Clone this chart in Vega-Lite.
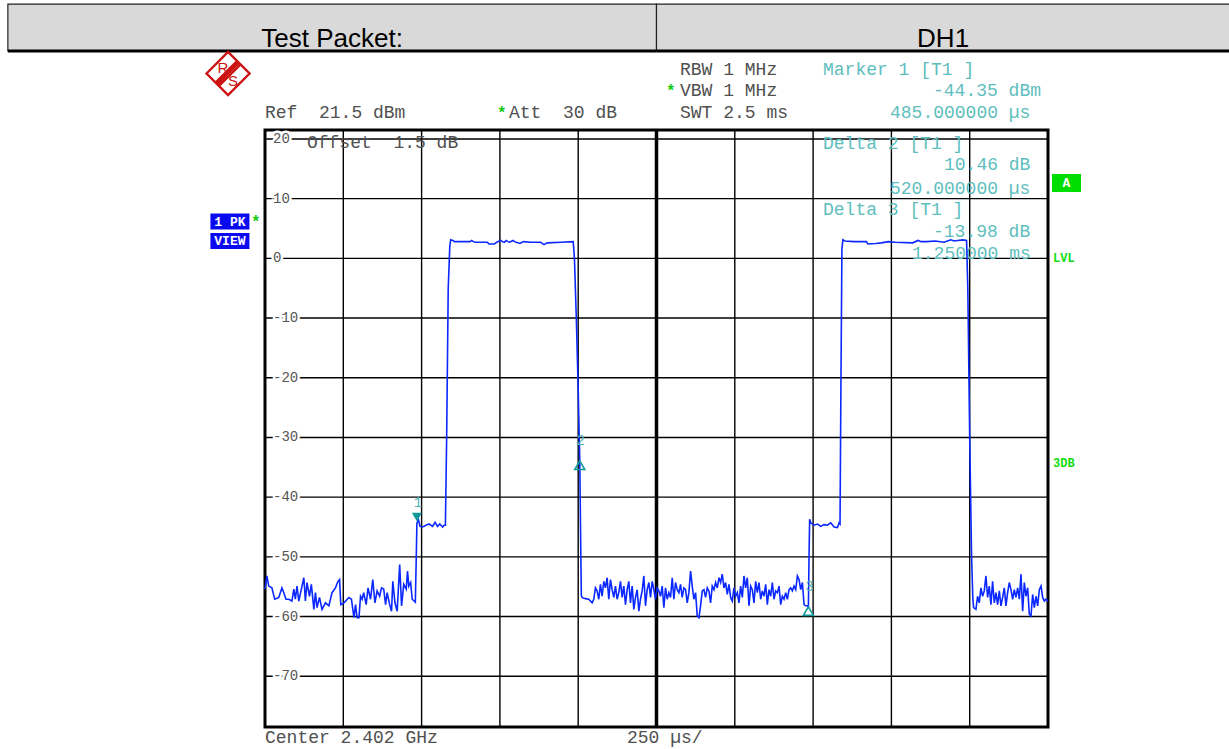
{
  "$schema": "https://vega.github.io/schema/vega-lite/v6.json",
  "width": 783,
  "height": 597,
  "autosize": {"type": "none"},
  "padding": {"left": 265, "top": 130, "right": 181, "bottom": 22},
  "background": "white",
  "config": {"view": {"stroke": "#000", "strokeWidth": 3}, "axis": {"disable": true}},
  "datasets": {
    "header": [
      {"label": "Test Packet:", "t": -821, "t2": 1250, "mid": 214.5, "top": 42.6, "bottom": 34.73, "base": 35.4},
      {"label": "DH1", "t": 1250, "t2": 3090, "mid": 2165, "top": 42.6, "bottom": 34.73, "base": 35.4}
    ],
    "vgrid": [{"t":0},{"t":250},{"t":500},{"t":750},{"t":1000},{"t":1250},{"t":1500},{"t":1750},{"t":2000},{"t":2250},{"t":2500}],
    "hgrid": [{"dBm":20},{"dBm":10},{"dBm":0},{"dBm":-10},{"dBm":-20},{"dBm":-30},{"dBm":-40},{"dBm":-50},{"dBm":-60},{"dBm":-70}],
    "trace": [
      {"t":0,"dBm":-55.4},{"t":6,"dBm":-53.2},{"t":12,"dBm":-54.9},{"t":22,"dBm":-55.2},{"t":31,"dBm":-57.1},{"t":44,"dBm":-56.8},{"t":54,"dBm":-55.2},{"t":60,"dBm":-56.0},{"t":67,"dBm":-57.1},{"t":76,"dBm":-57.1},{"t":86,"dBm":-57.4},{"t":92,"dBm":-55.4},{"t":97,"dBm":-57.1},{"t":102,"dBm":-54.9},{"t":108,"dBm":-57.4},{"t":116,"dBm":-55.4},{"t":124,"dBm":-53.5},{"t":129,"dBm":-57.4},{"t":134,"dBm":-54.3},{"t":142,"dBm":-56.6},{"t":148,"dBm":-54.6},{"t":156,"dBm":-58.8},{"t":161,"dBm":-56.0},{"t":166,"dBm":-58.5},{"t":174,"dBm":-56.8},{"t":182,"dBm":-58.8},{"t":193,"dBm":-57.7},{"t":204,"dBm":-58.2},{"t":214,"dBm":-56.0},{"t":225,"dBm":-55.2},{"t":233,"dBm":-54.1},{"t":238,"dBm":-53.8},{"t":242,"dBm":-58.0},{"t":252,"dBm":-57.7},{"t":268,"dBm":-56.8},{"t":276,"dBm":-57.1},{"t":284,"dBm":-60.2},{"t":289,"dBm":-58.0},{"t":294,"dBm":-60.2},{"t":300,"dBm":-60.2},{"t":305,"dBm":-56.6},{"t":310,"dBm":-57.1},{"t":315,"dBm":-56.0},{"t":323,"dBm":-58.0},{"t":329,"dBm":-55.2},{"t":337,"dBm":-57.1},{"t":344,"dBm":-53.8},{"t":351,"dBm":-57.7},{"t":358,"dBm":-55.7},{"t":366,"dBm":-56.6},{"t":372,"dBm":-55.2},{"t":379,"dBm":-55.4},{"t":385,"dBm":-58.0},{"t":390,"dBm":-56.0},{"t":398,"dBm":-58.0},{"t":404,"dBm":-59.1},{"t":408,"dBm":-54.1},{"t":415,"dBm":-57.7},{"t":422,"dBm":-59.1},{"t":430,"dBm":-51.3},{"t":436,"dBm":-58.2},{"t":443,"dBm":-54.6},{"t":451,"dBm":-55.4},{"t":455,"dBm":-52.4},{"t":459,"dBm":-54.9},{"t":465,"dBm":-54.3},{"t":470,"dBm":-57.1},{"t":476,"dBm":-57.4},{"t":480,"dBm":-57.6},
      {"t":483,"dBm":-50.0},{"t":485,"dBm":-44.35},{"t":490,"dBm":-43.8},{"t":495,"dBm":-44.9},{"t":503,"dBm":-45.0},{"t":514,"dBm":-44.7},{"t":524,"dBm":-44.5},{"t":535,"dBm":-44.9},{"t":543,"dBm":-44.2},{"t":551,"dBm":-44.9},{"t":558,"dBm":-44.5},{"t":567,"dBm":-45.0},{"t":572,"dBm":-44.7},{"t":576,"dBm":-44.7},
      {"t":580,"dBm":-30.0},{"t":585,"dBm":-5.0},{"t":590,"dBm":2.0},{"t":593,"dBm":3.1},{"t":600,"dBm":3.0},{"t":605,"dBm":2.8},{"t":630,"dBm":2.8},{"t":655,"dBm":2.8},{"t":660,"dBm":3.0},{"t":665,"dBm":2.8},{"t":671,"dBm":2.7},{"t":710,"dBm":2.7},{"t":715,"dBm":2.4},{"t":732,"dBm":2.4},{"t":743,"dBm":2.8},{"t":753,"dBm":3.0},{"t":758,"dBm":2.8},{"t":764,"dBm":2.7},{"t":770,"dBm":3.0},{"t":776,"dBm":2.8},{"t":781,"dBm":2.7},{"t":792,"dBm":3.0},{"t":797,"dBm":2.8},{"t":802,"dBm":2.7},{"t":814,"dBm":2.5},{"t":825,"dBm":2.8},{"t":847,"dBm":2.7},{"t":880,"dBm":2.7},{"t":891,"dBm":2.3},{"t":901,"dBm":2.6},{"t":946,"dBm":2.7},{"t":984,"dBm":2.8},
      {"t":988,"dBm":0.0},{"t":994,"dBm":-10.0},{"t":1000,"dBm":-22.0},{"t":1005,"dBm":-33.89},{"t":1008,"dBm":-48.0},{"t":1010,"dBm":-56.5},
      {"t":1012.4,"dBm":-56.8},{"t":1023,"dBm":-57.0},{"t":1033.7,"dBm":-57.1},{"t":1044.4,"dBm":-57.7},{"t":1049.7,"dBm":-57.1},{"t":1055,"dBm":-55.2},{"t":1060.4,"dBm":-55.7},{"t":1065.7,"dBm":-57.1},{"t":1071,"dBm":-54.6},{"t":1076.4,"dBm":-56.6},{"t":1081.7,"dBm":-54.1},{"t":1087,"dBm":-55.2},{"t":1092.3,"dBm":-53.5},{"t":1097.7,"dBm":-57.1},{"t":1103,"dBm":-53.8},{"t":1108.3,"dBm":-55.5},{"t":1113.7,"dBm":-56.8},{"t":1119,"dBm":-54.9},{"t":1124.3,"dBm":-57.1},{"t":1129.6,"dBm":-56.0},{"t":1135,"dBm":-54.1},{"t":1140.3,"dBm":-56.8},{"t":1145.6,"dBm":-54.9},{"t":1151,"dBm":-58.0},{"t":1156.3,"dBm":-55.5},{"t":1161.6,"dBm":-54.1},{"t":1166.9,"dBm":-57.7},{"t":1172.3,"dBm":-54.9},{"t":1177.6,"dBm":-58.8},{"t":1182.9,"dBm":-56.8},{"t":1188.3,"dBm":-55.5},{"t":1193.6,"dBm":-59.1},{"t":1198.9,"dBm":-57.1},{"t":1204.2,"dBm":-55.7},{"t":1209.6,"dBm":-53.2},{"t":1214.9,"dBm":-58.2},{"t":1220.2,"dBm":-55.5},{"t":1225.6,"dBm":-54.3},{"t":1230.9,"dBm":-56.8},{"t":1236.2,"dBm":-54.1},{"t":1241.5,"dBm":-55.5},{"t":1246.9,"dBm":-57.1},{"t":1252.2,"dBm":-55.2},{"t":1257.5,"dBm":-55.7},{"t":1262.9,"dBm":-56.6},{"t":1268.2,"dBm":-54.9},{"t":1273.5,"dBm":-58.5},{"t":1278.8,"dBm":-55.2},{"t":1284.2,"dBm":-57.1},{"t":1289.5,"dBm":-56.0},{"t":1294.8,"dBm":-56.8},{"t":1300.2,"dBm":-53.5},{"t":1305.5,"dBm":-57.1},{"t":1310.8,"dBm":-54.3},{"t":1316.1,"dBm":-55.5},{"t":1321.5,"dBm":-56.0},{"t":1326.8,"dBm":-54.6},{"t":1332.1,"dBm":-56.8},{"t":1337.5,"dBm":-55.2},{"t":1342.8,"dBm":-55.5},{"t":1348.1,"dBm":-57.7},{"t":1353.4,"dBm":-56.0},{"t":1358.8,"dBm":-52.4},{"t":1364.1,"dBm":-54.9},{"t":1369.4,"dBm":-57.1},{"t":1374.8,"dBm":-56.0},{"t":1380.1,"dBm":-59.9},{"t":1385.4,"dBm":-60.2},{"t":1390.7,"dBm":-58.2},{"t":1396.1,"dBm":-55.7},{"t":1401.4,"dBm":-55.5},{"t":1406.7,"dBm":-56.8},{"t":1412.1,"dBm":-55.2},{"t":1417.4,"dBm":-55.7},{"t":1422.7,"dBm":-57.7},{"t":1428,"dBm":-54.9},{"t":1433.4,"dBm":-55.5},{"t":1438.7,"dBm":-54.3},{"t":1444,"dBm":-55.2},{"t":1449.4,"dBm":-53.5},{"t":1454.7,"dBm":-54.3},{"t":1460,"dBm":-52.9},{"t":1465.3,"dBm":-55.2},{"t":1470.7,"dBm":-54.3},{"t":1476,"dBm":-56.3},{"t":1481.3,"dBm":-54.6},{"t":1486.7,"dBm":-56.8},{"t":1492,"dBm":-57.4},{"t":1497.3,"dBm":-55.2},{"t":1502.6,"dBm":-56.6},{"t":1508,"dBm":-56.0},{"t":1513.3,"dBm":-57.7},{"t":1518.6,"dBm":-54.9},{"t":1524,"dBm":-56.8},{"t":1529.3,"dBm":-53.2},{"t":1534.6,"dBm":-55.2},{"t":1539.9,"dBm":-53.5},{"t":1545.3,"dBm":-58.2},{"t":1550.6,"dBm":-54.9},{"t":1555.9,"dBm":-55.5},{"t":1561.3,"dBm":-57.7},{"t":1566.6,"dBm":-54.1},{"t":1571.9,"dBm":-56.0},{"t":1577.2,"dBm":-54.3},{"t":1582.6,"dBm":-57.1},{"t":1587.9,"dBm":-55.7},{"t":1593.2,"dBm":-56.6},{"t":1598.6,"dBm":-54.6},{"t":1603.9,"dBm":-58.0},{"t":1609.2,"dBm":-55.5},{"t":1614.5,"dBm":-56.6},{"t":1619.9,"dBm":-54.3},{"t":1625.2,"dBm":-57.1},{"t":1630.5,"dBm":-55.7},{"t":1635.9,"dBm":-56.0},{"t":1641.2,"dBm":-54.9},{"t":1646.5,"dBm":-58.0},{"t":1651.8,"dBm":-56.6},{"t":1657.2,"dBm":-57.1},{"t":1662.5,"dBm":-56.0},{"t":1667.8,"dBm":-57.1},{"t":1673.2,"dBm":-55.5},{"t":1678.5,"dBm":-55.2},{"t":1683.8,"dBm":-55.7},{"t":1689.1,"dBm":-54.9},{"t":1694.5,"dBm":-55.5},{"t":1699.8,"dBm":-53.2},{"t":1705.1,"dBm":-53.8},{"t":1710.5,"dBm":-55.5},{"t":1715.8,"dBm":-54.3},{"t":1721.1,"dBm":-58.0},{"t":1726.4,"dBm":-58.2},{"t":1731.8,"dBm":-58.2},{"t":1735,"dBm":-58.33},
      {"t":1737,"dBm":-50.0},{"t":1739,"dBm":-43.7},{"t":1742.4,"dBm":-44.3},{"t":1753,"dBm":-44.7},{"t":1764,"dBm":-44.5},{"t":1774.4,"dBm":-44.9},{"t":1785,"dBm":-44.6},{"t":1795.7,"dBm":-44.7},{"t":1806.4,"dBm":-44.3},{"t":1817,"dBm":-45.0},{"t":1827.7,"dBm":-45.1},{"t":1833,"dBm":-44.3},{"t":1836,"dBm":-44.5},
      {"t":1839,"dBm":-20.0},{"t":1842,"dBm":1.5},{"t":1845,"dBm":3.1},{"t":1852,"dBm":2.9},{"t":1880,"dBm":2.8},{"t":1920,"dBm":2.8},{"t":1925,"dBm":2.4},{"t":1950,"dBm":2.5},{"t":1968,"dBm":2.6},{"t":1990,"dBm":2.8},{"t":2012,"dBm":2.7},{"t":2068,"dBm":2.6},{"t":2085,"dBm":3.0},{"t":2095,"dBm":2.8},{"t":2112,"dBm":2.8},{"t":2140,"dBm":2.9},{"t":2168,"dBm":2.7},{"t":2190,"dBm":3.1},{"t":2200,"dBm":2.9},{"t":2212,"dBm":3.0},{"t":2228,"dBm":3.1},{"t":2240,"dBm":3.0},
      {"t":2244,"dBm":-5.0},{"t":2250,"dBm":-30.0},{"t":2256,"dBm":-50.0},{"t":2260,"dBm":-57.0},
      {"t":2262.4,"dBm":-58.5},{"t":2269.9,"dBm":-58.8},{"t":2275.2,"dBm":-56.6},{"t":2280.5,"dBm":-57.7},{"t":2285.8,"dBm":-55.2},{"t":2291.2,"dBm":-56.6},{"t":2296.5,"dBm":-55.7},{"t":2301.8,"dBm":-53.2},{"t":2307.2,"dBm":-56.8},{"t":2312.5,"dBm":-54.9},{"t":2317.8,"dBm":-58.0},{"t":2323.1,"dBm":-54.1},{"t":2328.5,"dBm":-57.7},{"t":2333.8,"dBm":-56.0},{"t":2339.1,"dBm":-58.0},{"t":2344.5,"dBm":-55.7},{"t":2349.8,"dBm":-58.2},{"t":2355.1,"dBm":-56.8},{"t":2360.4,"dBm":-55.2},{"t":2365.8,"dBm":-58.2},{"t":2371.1,"dBm":-56.0},{"t":2376.4,"dBm":-54.3},{"t":2381.8,"dBm":-55.5},{"t":2387.1,"dBm":-57.1},{"t":2392.4,"dBm":-55.5},{"t":2397.7,"dBm":-56.8},{"t":2403.1,"dBm":-55.2},{"t":2408.4,"dBm":-57.1},{"t":2413.7,"dBm":-52.9},{"t":2419.1,"dBm":-59.1},{"t":2424.4,"dBm":-54.3},{"t":2429.7,"dBm":-56.6},{"t":2435,"dBm":-55.2},{"t":2440.4,"dBm":-59.6},{"t":2445.7,"dBm":-59.9},{"t":2451,"dBm":-56.3},{"t":2456.4,"dBm":-58.5},{"t":2461.7,"dBm":-56.6},{"t":2467,"dBm":-58.2},{"t":2472.3,"dBm":-55.5},{"t":2477.7,"dBm":-54.9},{"t":2483,"dBm":-56.8},{"t":2488.3,"dBm":-57.4},{"t":2493.7,"dBm":-57.1},{"t":2500,"dBm":-57.4}
    ],
    "markers": [
      {"t": 485, "dBm": -44.35, "id": "1"},
      {"t": 1005, "dBm": -33.89, "id": "2"},
      {"t": 1735, "dBm": -58.33, "id": "3"}
    ],
    "levels": [
      {"t": 0, "dBm": 20, "label": "20"}, {"t": 0, "dBm": 10, "label": "10"}, {"t": 0, "dBm": 0, "label": "0"},
      {"t": 0, "dBm": -10, "label": "-10"}, {"t": 0, "dBm": -20, "label": "-20"}, {"t": 0, "dBm": -30, "label": "-30"},
      {"t": 0, "dBm": -40, "label": "-40"}, {"t": 0, "dBm": -50, "label": "-50"}, {"t": 0, "dBm": -60, "label": "-60"},
      {"t": 0, "dBm": -70, "label": "-70"}
    ],
    "grayNotes": [
      {"t": 0, "dBm": 24.35, "text": "Ref\u00a0\u00a021.5\u00a0dBm"},
      {"t": 779, "dBm": 24.35, "text": "Att\u00a0\u00a030\u00a0dB"},
      {"t": 1325, "dBm": 31.55, "text": "RBW\u00a01\u00a0MHz"},
      {"t": 1325, "dBm": 28.03, "text": "VBW\u00a01\u00a0MHz"},
      {"t": 1325, "dBm": 24.35, "text": "SWT\u00a02.5\u00a0ms"},
      {"t": 134, "dBm": 19.32, "text": "Offset\u00a0\u00a01.5\u00a0dB"},
      {"t": 0, "dBm": -80.4, "text": "Center\u00a02.402\u00a0GHz"},
      {"t": 1155.8, "dBm": -80.4, "text": "250\u00a0µs/"}
    ],
    "tealNotes": [
      {"t": 1781.6, "dBm": 31.55, "text": "Marker\u00a01\u00a0[T1\u00a0]"},
      {"t": 2132.8, "dBm": 28.03, "text": "-44.35\u00a0dBm"},
      {"t": 1995.5, "dBm": 24.35, "text": "485.000000\u00a0µs"},
      {"t": 1781.6, "dBm": 19.15, "text": "Delta\u00a02\u00a0[T1\u00a0]"},
      {"t": 2167.9, "dBm": 15.64, "text": "10.46\u00a0dB"},
      {"t": 1995.5, "dBm": 11.62, "text": "520.000000\u00a0µs"},
      {"t": 1781.6, "dBm": 8.1, "text": "Delta\u00a03\u00a0[T1\u00a0]"},
      {"t": 2132.8, "dBm": 4.41, "text": "-13.98\u00a0dB"},
      {"t": 2065.7, "dBm": 0.73, "text": "1.250000\u00a0ms"}
    ],
    "stars": [
      {"t": 740.7, "dBm": 24.35}, {"t": 1280, "dBm": 28.03}, {"t": -44.7, "dBm": 6.17}
    ],
    "blueBoxes": [
      {"t": -112, "dBm": 6.17, "label": "1\u00a0PK"},
      {"t": -112, "dBm": 2.91, "label": "VIEW"}
    ],
    "greenBox": [{"t": 2559, "dBm": 12.62, "label": "A"}],
    "greenLabels": [
      {"t": 2516, "dBm": 0.13, "label": "LVL"},
      {"t": 2516, "dBm": -34.28, "label": "3DB"}
    ],
    "logo": [{"t": -118, "dBm": 30.96}],
    "logoLetters": [
      {"t": -134, "dBm": 31.9, "label": "R"},
      {"t": -102, "dBm": 29.7, "label": "S"}
    ],
    "centre": [{"t": 1250}]
  },
  "layer": [
    {
      "data": {"name": "header"},
      "mark": {"type": "rect", "fill": "#d9d9d9", "stroke": "#222", "strokeWidth": 1.2},
      "encoding": {
        "x": {"field": "t", "type": "quantitative", "scale": {"domain": [0, 2500], "nice": false, "zero": false}},
        "x2": {"field": "t2"},
        "y": {"field": "top", "type": "quantitative", "scale": {"domain": [-78.5, 21.5], "nice": false, "zero": false}},
        "y2": {"field": "bottom"}
      }
    },
    {
      "data": {"name": "header"},
      "mark": {"type": "rule", "stroke": "#000", "strokeWidth": 3},
      "encoding": {
        "x": {"field": "t", "type": "quantitative", "scale": {"domain": [0, 2500], "nice": false, "zero": false}},
        "x2": {"field": "t2"},
        "y": {"field": "bottom", "type": "quantitative", "scale": {"domain": [-78.5, 21.5], "nice": false, "zero": false}}
      }
    },
    {
      "data": {"name": "header"},
      "mark": {"type": "text", "font": "Liberation Sans", "fontSize": 26, "align": "center", "baseline": "alphabetic", "fill": "#000"},
      "encoding": {
        "x": {"field": "mid", "type": "quantitative", "scale": {"domain": [0, 2500], "nice": false, "zero": false}},
        "y": {"field": "base", "type": "quantitative", "scale": {"domain": [-78.5, 21.5], "nice": false, "zero": false}},
        "text": {"field": "label"}
      }
    },
    {
      "data": {"name": "vgrid"},
      "mark": {"type": "rule", "stroke": "#000", "strokeWidth": 1.4},
      "encoding": {
        "x": {"field": "t", "type": "quantitative", "scale": {"domain": [0, 2500], "nice": false, "zero": false}}
      }
    },
    {
      "data": {"name": "hgrid"},
      "mark": {"type": "rule", "stroke": "#000", "strokeWidth": 1.4},
      "encoding": {
        "y": {"field": "dBm", "type": "quantitative", "scale": {"domain": [-78.5, 21.5], "nice": false, "zero": false}}
      }
    },
    {
      "data": {"name": "centre"},
      "mark": {"type": "rule", "stroke": "#000", "strokeWidth": 3.5},
      "encoding": {
        "x": {"field": "t", "type": "quantitative", "scale": {"domain": [0, 2500], "nice": false, "zero": false}}
      }
    },
    {
      "data": {"name": "levels"},
      "mark": {"type": "text", "font": "Liberation Mono", "fontSize": 14, "fill": "white", "stroke": "white", "strokeWidth": 5, "align": "left", "baseline": "middle", "dx": 8},
      "encoding": {
        "x": {"field": "t", "type": "quantitative", "scale": {"domain": [0, 2500], "nice": false, "zero": false}},
        "y": {"field": "dBm", "type": "quantitative", "scale": {"domain": [-78.5, 21.5], "nice": false, "zero": false}},
        "text": {"field": "label"}
      }
    },
    {
      "data": {"name": "levels"},
      "mark": {"type": "text", "font": "Liberation Mono", "fontSize": 14, "fill": "#555", "align": "left", "baseline": "middle", "dx": 8},
      "encoding": {
        "x": {"field": "t", "type": "quantitative", "scale": {"domain": [0, 2500], "nice": false, "zero": false}},
        "y": {"field": "dBm", "type": "quantitative", "scale": {"domain": [-78.5, 21.5], "nice": false, "zero": false}},
        "text": {"field": "label"}
      }
    },
    {
      "data": {"name": "logo"},
      "mark": {"type": "point", "shape": "M-1,0L0,-1L1,0L0,1Z M-0.58,0.42L0.42,-0.58 M-0.5,0.5L0.5,-0.5 M-0.42,0.58L0.58,-0.42", "size": 1850, "filled": false, "stroke": "#cc1111", "strokeWidth": 2.4, "opacity": 1},
      "encoding": {
        "x": {"field": "t", "type": "quantitative", "scale": {"domain": [0, 2500], "nice": false, "zero": false}},
        "y": {"field": "dBm", "type": "quantitative", "scale": {"domain": [-78.5, 21.5], "nice": false, "zero": false}}
      }
    },
    {
      "data": {"name": "logoLetters"},
      "mark": {"type": "text", "font": "Liberation Sans", "fontSize": 15, "fill": "#cc1111", "align": "center", "baseline": "middle"},
      "encoding": {
        "x": {"field": "t", "type": "quantitative", "scale": {"domain": [0, 2500], "nice": false, "zero": false}},
        "y": {"field": "dBm", "type": "quantitative", "scale": {"domain": [-78.5, 21.5], "nice": false, "zero": false}},
        "text": {"field": "label"}
      }
    },
    {
      "data": {"name": "blueBoxes"},
      "mark": {"type": "point", "shape": "M-1,-0.41L1,-0.41L1,0.41L-1,0.41Z", "size": 1521, "filled": true, "fill": "#0a0af0", "stroke": null, "opacity": 1},
      "encoding": {
        "x": {"field": "t", "type": "quantitative", "scale": {"domain": [0, 2500], "nice": false, "zero": false}},
        "y": {"field": "dBm", "type": "quantitative", "scale": {"domain": [-78.5, 21.5], "nice": false, "zero": false}}
      }
    },
    {
      "data": {"name": "blueBoxes"},
      "mark": {"type": "text", "font": "Liberation Mono", "fontSize": 13, "fontWeight": "bold", "fill": "white", "align": "center", "baseline": "middle"},
      "encoding": {
        "x": {"field": "t", "type": "quantitative", "scale": {"domain": [0, 2500], "nice": false, "zero": false}},
        "y": {"field": "dBm", "type": "quantitative", "scale": {"domain": [-78.5, 21.5], "nice": false, "zero": false}},
        "text": {"field": "label"}
      }
    },
    {
      "data": {"name": "greenBox"},
      "mark": {"type": "point", "shape": "M-1,-0.62L1,-0.62L1,0.62L-1,0.62Z", "size": 841, "filled": true, "fill": "#00dd00", "stroke": null, "opacity": 1},
      "encoding": {
        "x": {"field": "t", "type": "quantitative", "scale": {"domain": [0, 2500], "nice": false, "zero": false}},
        "y": {"field": "dBm", "type": "quantitative", "scale": {"domain": [-78.5, 21.5], "nice": false, "zero": false}}
      }
    },
    {
      "data": {"name": "greenBox"},
      "mark": {"type": "text", "font": "Liberation Mono", "fontSize": 13, "fontWeight": "bold", "fill": "white", "align": "center", "baseline": "middle"},
      "encoding": {
        "x": {"field": "t", "type": "quantitative", "scale": {"domain": [0, 2500], "nice": false, "zero": false}},
        "y": {"field": "dBm", "type": "quantitative", "scale": {"domain": [-78.5, 21.5], "nice": false, "zero": false}},
        "text": {"field": "label"}
      }
    },
    {
      "data": {"name": "greenLabels"},
      "mark": {"type": "text", "font": "Liberation Mono", "fontSize": 12, "fontWeight": "bold", "fill": "#11dd11", "align": "left", "baseline": "middle"},
      "encoding": {
        "x": {"field": "t", "type": "quantitative", "scale": {"domain": [0, 2500], "nice": false, "zero": false}},
        "y": {"field": "dBm", "type": "quantitative", "scale": {"domain": [-78.5, 21.5], "nice": false, "zero": false}},
        "text": {"field": "label"}
      }
    },
    {
      "data": {"name": "stars"},
      "mark": {"type": "text", "font": "Liberation Mono", "fontSize": 16, "fontWeight": "bold", "fill": "#11cc11", "align": "left", "baseline": "middle", "text": "*"},
      "encoding": {
        "x": {"field": "t", "type": "quantitative", "scale": {"domain": [0, 2500], "nice": false, "zero": false}},
        "y": {"field": "dBm", "type": "quantitative", "scale": {"domain": [-78.5, 21.5], "nice": false, "zero": false}}
      }
    },
    {
      "data": {"name": "grayNotes"},
      "mark": {"type": "text", "font": "Liberation Mono", "fontSize": 18, "fill": "#505050", "align": "left", "baseline": "middle"},
      "encoding": {
        "x": {"field": "t", "type": "quantitative", "scale": {"domain": [0, 2500], "nice": false, "zero": false}},
        "y": {"field": "dBm", "type": "quantitative", "scale": {"domain": [-78.5, 21.5], "nice": false, "zero": false}},
        "text": {"field": "text"}
      }
    },
    {
      "data": {"name": "tealNotes"},
      "mark": {"type": "text", "font": "Liberation Mono", "fontSize": 18, "fill": "#5ebebe", "align": "left", "baseline": "middle"},
      "encoding": {
        "x": {"field": "t", "type": "quantitative", "scale": {"domain": [0, 2500], "nice": false, "zero": false}},
        "y": {"field": "dBm", "type": "quantitative", "scale": {"domain": [-78.5, 21.5], "nice": false, "zero": false}},
        "text": {"field": "text"}
      }
    },
    {
      "data": {"name": "trace"},
      "mark": {"type": "line", "stroke": "#0a28ff", "strokeWidth": 1.6, "interpolate": "linear"},
      "encoding": {
        "x": {"field": "t", "type": "quantitative", "scale": {"domain": [0, 2500], "nice": false, "zero": false}},
        "y": {"field": "dBm", "type": "quantitative", "scale": {"domain": [-78.5, 21.5], "nice": false, "zero": false}}
      }
    },
    {
      "data": {"name": "markers"},
      "transform": [{"filter": "datum.id == '1'"}],
      "mark": {"type": "point", "shape": "triangle-down", "size": 100, "filled": true, "fill": "#119999", "stroke": null, "opacity": 1, "yOffset": -6},
      "encoding": {
        "x": {"field": "t", "type": "quantitative", "scale": {"domain": [0, 2500], "nice": false, "zero": false}},
        "y": {"field": "dBm", "type": "quantitative", "scale": {"domain": [-78.5, 21.5], "nice": false, "zero": false}}
      }
    },
    {
      "data": {"name": "markers"},
      "transform": [{"filter": "datum.id != '1'"}],
      "mark": {"type": "point", "shape": "triangle-up", "size": 100, "filled": false, "stroke": "#119999", "strokeWidth": 1.6, "opacity": 1, "yOffset": 4.5},
      "encoding": {
        "x": {"field": "t", "type": "quantitative", "scale": {"domain": [0, 2500], "nice": false, "zero": false}},
        "y": {"field": "dBm", "type": "quantitative", "scale": {"domain": [-78.5, 21.5], "nice": false, "zero": false}}
      }
    },
    {
      "data": {"name": "markers"},
      "mark": {"type": "text", "font": "Liberation Mono", "fontSize": 14, "fill": "#4fb5b5", "align": "center", "baseline": "middle", "dy": -20, "dx": 1},
      "encoding": {
        "x": {"field": "t", "type": "quantitative", "scale": {"domain": [0, 2500], "nice": false, "zero": false}},
        "y": {"field": "dBm", "type": "quantitative", "scale": {"domain": [-78.5, 21.5], "nice": false, "zero": false}},
        "text": {"field": "id"}
      }
    }
  ]
}
